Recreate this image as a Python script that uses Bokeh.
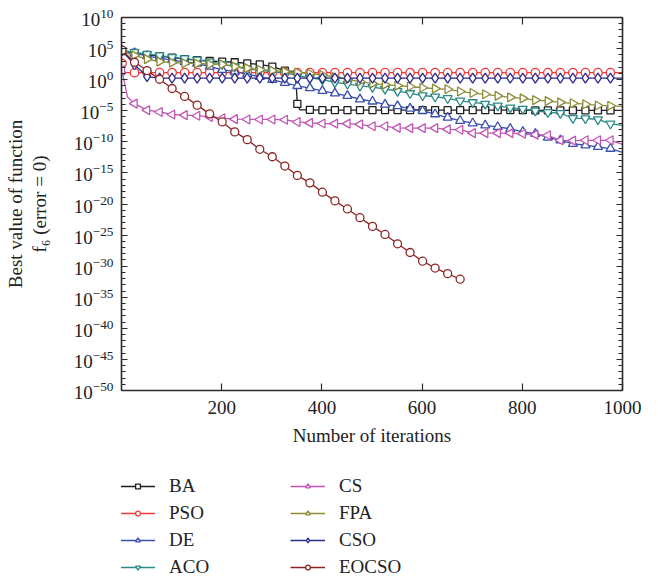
import math
from bokeh.plotting import figure
from bokeh.layouts import column
from bokeh.models import (FixedTicker, LogAxis, LinearAxis, CustomJSTickFormatter, LogTickFormatter,
                          Legend, LegendItem, Title, Range1d)
from bokeh.embed import file_html
from bokeh.resources import INLINE

# ---------------- data (values are log10 of the best function value) ----------------
ITER = [1, 26, 51, 76, 101, 126, 151, 176, 201, 226, 251, 276, 301, 326, 351, 376,
        401, 426, 451, 476, 501, 526, 551, 576, 601, 626, 651, 676, 701, 726, 751, 776,
        801, 826, 851, 876, 901, 926, 951, 976]
LAST_ITER = 1000

ba_exp = [4.6, 4.3, 4.0, 3.8, 3.56, 3.3, 3.15, 3.0, 2.9, 2.8, 2.62, 2.45, 2.1, 1.45, -3.9, -4.85,
          -4.9, -4.9, -4.9, -4.9, -4.9, -4.9, -4.9, -4.9, -4.9, -4.9, -4.9, -4.9, -4.9, -4.9,
          -4.9, -4.9, -4.9, -4.95, -4.95, -4.95, -4.95, -4.95, -4.95, -4.95]
ba_last = -4.95
ba_extra_x = [347, 356]
ba_extra_exp = [1.3, -4.85]

pso_exp = [2.6] + [1.12] * 39
pso_last = 1.12
pso_extra_x = [6]
pso_extra_exp = [1.12]

de_exp = [4.7, 4.3, 3.8, 3.45, 3.15, 2.85, 2.6, 2.1, 1.6, 1.3, 0.9, 0.45, 0.0, -0.5, -1.0, -1.35,
          -1.8, -2.2, -2.6, -3.15, -3.5, -4.0, -4.25, -4.65, -5.0, -5.55, -6.1, -6.6, -7.0, -7.35,
          -7.6, -7.9, -8.4, -8.7, -9.3, -9.75, -10.3, -10.55, -10.8, -11.1]
de_last = -11.7

aco_exp = [4.7, 4.4, 4.1, 3.9, 3.6, 3.4, 3.2, 2.9, 2.5, 2.1, 1.7, 1.5, 1.3, 1.1, 0.7, 0.3,
           0.0, -0.45, -0.7, -1.0, -1.2, -1.5, -1.85, -2.2, -2.55, -2.75, -3.0, -3.4, -3.65, -3.9,
           -4.2, -4.5, -4.7, -5.0, -5.25, -5.4, -6.2, -6.25, -6.4, -7.1]
aco_last = -7.34

cs_exp = [1.5, -3.85, -4.9, -5.2, -5.6, -5.7, -5.8, -6.0, -6.2, -6.35, -6.4, -6.4, -6.4, -6.45,
          -6.8, -6.95, -7.05, -7.07, -7.07, -7.2, -7.5, -7.5, -7.75, -7.8, -7.8, -7.8, -8.0, -8.05,
          -8.6, -8.6, -8.6, -8.6, -8.7, -8.85, -8.95, -9.75, -9.8, -9.75, -9.75, -9.75]
cs_last = -10.4
cs_extra_x = [12]
cs_extra_exp = [-2.8]

fpa_exp = [4.5, 3.9, 3.3, 2.9, 2.75, 2.65, 2.6, 2.5, 2.45, 2.1, 1.85, 1.6, 1.45, 1.3, 1.15, 1.0,
           0.75, 0.4, 0.05, -0.3, -0.63, -0.8, -0.95, -1.1, -1.3, -1.45, -1.55, -1.9, -2.15, -2.35,
           -2.6, -2.85, -3.0, -3.3, -3.45, -3.65, -3.8, -3.95, -4.15, -4.2]
fpa_last = -4.3

cso_exp = [4.7, 2.4, 0.5] + [0.25] * 37
cso_last = 0.25

eocso_exp = [4.75, 2.8, 1.47, 0.07, -1.42, -2.7, -4.1, -5.5, -6.8, -8.4, -9.65, -11.2, -12.4,
             -13.9, -15.4, -16.6, -18.1, -19.5, -20.8, -22.2, -23.6, -24.9, -26.4, -27.8, -29.2,
             -30.3, -31.2, -32.1]
eocso_last = None

X_TICKS = [200, 400, 600, 800, 1000]
Y_TICK_EXPS = [10, 5, 0, -5, -10, -15, -20, -25, -30, -35, -40, -45, -50]

# ---------------- styling ----------------
FONT = "Liberation Serif"
TXT = "#222222"
series = [
    # name, exps, last, extra_x, extra_exp, color, marker, angle, size
    ("BA", ba_exp, ba_last, ba_extra_x, ba_extra_exp, "#1e1e1e", "square", 0.0, 7),
    ("PSO", pso_exp, pso_last, pso_extra_x, pso_extra_exp, "#f03a3a", "circle", 0.0, 8.5),
    ("DE", de_exp, de_last, [], [], "#3a4fae", "triangle", 0.0, 9),
    ("ACO", aco_exp, aco_last, [], [], "#2a8a87", "inverted_triangle", 0.0, 9),
    ("CS", cs_exp, cs_last, cs_extra_x, cs_extra_exp, "#c255b5", "triangle", math.pi / 2, 9),
    ("FPA", fpa_exp, fpa_last, [], [], "#8c8c38", "triangle", -math.pi / 2, 9),
    ("CSO", cso_exp, cso_last, [], [], "#2b2b8c", "diamond", 0.0, 10),
    ("EOCSO", eocso_exp, eocso_last, [], [], "#8b2525", "circle", 0.0, 8),
]

p = figure(frame_width=501, frame_height=373,
           min_border_left=121, min_border_right=36, min_border_top=17, min_border_bottom=70,
           x_range=Range1d(0, 1000), y_range=Range1d(1e-50, 1e10), y_axis_type="log",
           output_backend="svg", toolbar_location=None)
p.outline_line_color = None
p.xgrid.visible = False
p.ygrid.visible = False
p.background_fill_color = "white"

# separate strip below the chart that only holds the legend
leg_fig = figure(width=658, height=120, x_range=Range1d(0, 1), y_range=Range1d(0, 1),
                 output_backend="svg", toolbar_location=None,
                 x_axis_location=None, y_axis_location=None, min_border=0)
leg_fig.outline_line_color = None
leg_fig.xgrid.visible = False
leg_fig.ygrid.visible = False

items = []
for name, exps, last, ex_x, ex_e, color, marker, angle, size in series:
    mx = ITER[:len(exps)]
    my = [10 ** e for e in exps]
    pts = list(zip(mx, my)) + [(x, 10 ** e) for x, e in zip(ex_x, ex_e)]
    if last is not None:
        pts.append((LAST_ITER, 10 ** last))
    pts.sort(key=lambda t: t[0])
    lx = [t[0] for t in pts]
    ly = [t[1] for t in pts]
    p.line(lx, ly, line_color=color, line_width=1.3)
    p.scatter(mx, my, marker=marker, angle=angle, size=size, line_color=color,
              fill_color="white", line_width=1.3)
    # legend samples in the legend strip (kept outside its visible range)
    llr = leg_fig.line([5, 6], [5, 6], line_color=color, line_width=1.3)
    lsr = leg_fig.scatter([5], [5], marker=marker, angle=angle, size=size, line_color=color,
                          fill_color="white", line_width=1.3)
    items.append(LegendItem(label=name, renderers=[llr, lsr], index=0))

# axes
AX_COLOR = "#2a2a2a"
xt = FixedTicker(ticks=X_TICKS, minor_ticks=[])
yt = FixedTicker(ticks=[10.0 ** e for e in Y_TICK_EXPS],
                 minor_ticks=[10.0 ** k for k in range(-50, 11)])
blank_fmt = CustomJSTickFormatter(code="return '';")

def style_axis(ax):
    ax.axis_line_color = AX_COLOR
    ax.axis_line_width = 1.6
    ax.major_tick_line_color = AX_COLOR
    ax.minor_tick_line_color = AX_COLOR
    ax.major_tick_line_width = 1.2
    ax.minor_tick_line_width = 1.2
    ax.major_tick_out = 0
    ax.minor_tick_out = 0
    ax.major_label_text_font = FONT
    ax.major_label_text_font_size = "19px"
    ax.major_label_text_color = TXT

xa = p.xaxis[0]
xa.ticker = xt
style_axis(xa)
xa.major_tick_in = 7
xa.minor_tick_in = 0
xa.major_label_standoff = 10
xa.axis_label = "Number of iterations"
xa.axis_label_text_font = FONT
xa.axis_label_text_font_size = "19px"
xa.axis_label_text_font_style = "normal"
xa.axis_label_text_color = TXT
xa.axis_label_standoff = 8

ya = p.yaxis[0]
ya.ticker = yt
ya.formatter = LogTickFormatter()
style_axis(ya)
ya.major_tick_in = 6
ya.minor_tick_in = 4
ya.major_label_standoff = 8
# second line of the y title is the axis label, first line is a title further out
ya.axis_label = "f\u2086 (error = 0)"
ya.axis_label_text_font = FONT
ya.axis_label_text_font_size = "19px"
ya.axis_label_text_font_style = "normal"
ya.axis_label_text_color = TXT
ya.axis_label_standoff = 21

top = LinearAxis(ticker=xt, formatter=blank_fmt)
style_axis(top)
top.major_tick_in = 7
top.minor_tick_in = 0
p.add_layout(top, "above")

right = LogAxis(ticker=yt, formatter=blank_fmt)
style_axis(right)
right.major_tick_in = 6
right.minor_tick_in = 4
p.add_layout(right, "right")

p.add_layout(Title(text="Best value of function", align="center", text_font=FONT,
                   text_font_size="19px", text_font_style="normal", text_color=TXT,
                   standoff=0), "left")

legend = Legend(items=items, location=(-1, 2), orientation="vertical", nrows=4,
                glyph_width=35, glyph_height=12, label_standoff=14, label_width=117,
                label_height=23, spacing=4, padding=0, margin=0,
                border_line_color=None, background_fill_alpha=0,
                label_text_font=FONT, label_text_font_size="19px", label_text_color=TXT)
leg_fig.add_layout(legend)

layout = column(p, leg_fig)
open("out.html", "w").write(file_html(layout, INLINE))
